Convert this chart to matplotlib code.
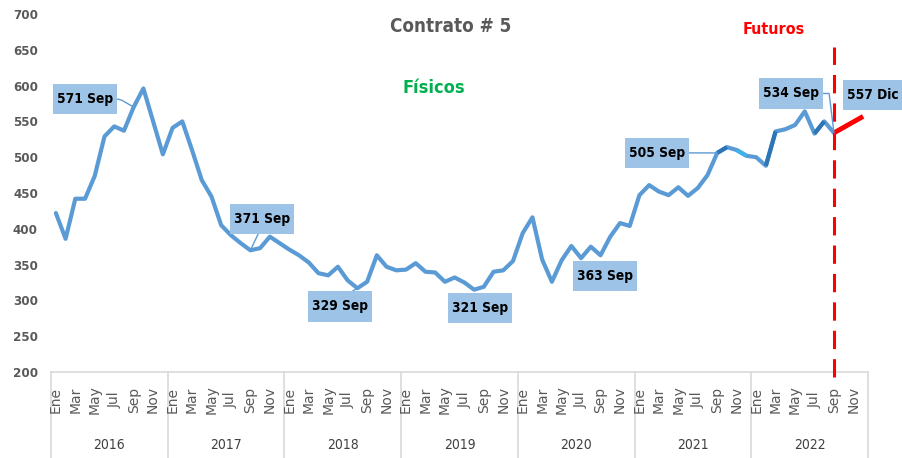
import numpy as np
import matplotlib
matplotlib.use('Agg')
import matplotlib.pyplot as plt
import matplotlib.font_manager as fm
from matplotlib.path import Path
from matplotlib.transforms import blended_transform_factory

## ---------------------------- DATOS ---------------------------- ##

anios = ['2016', '2017', '2018', '2019', '2020', '2021', '2022']
meses_eje = ['Ene', 'Mar', 'May', 'Jul', 'Sep', 'Nov']

# precios mensuales Ene 2016 - Sep 2022 (fisicos)
fisicos = [422, 386, 442, 442, 474, 529, 543, 537, 570, 596, 550, 504,
           541, 550, 510, 468, 445, 405, 391, 380, 370, 373, 389, 380,
           371, 363, 353, 338, 335, 347, 328, 317, 326, 363, 347, 342,
           343, 352, 340, 339, 326, 332, 325, 315, 319, 340, 342, 355,
           394, 416, 357, 326, 356, 376, 359, 375, 363, 389, 408, 404,
           447, 461, 452, 447, 458, 446, 457, 475, 506, 514, 510, 502,
           500, 488, 536, 539, 545, 564, 533, 550, 534]

# futuros: Sep 2022 -> Dic 2022
fut_idx = [80, 83]
futuros = [534, 557]

# etiquetas de datos
etiq_txt = ['571 Sep', '371 Sep', '329 Sep', '321 Sep', '363 Sep', '505 Sep', '534 Sep', '557 Dic']
etiq_idx = [8, 20, 32, 44, 56, 68, 80, 83]

## ---------------------- POSICIONES / ESTILOS ---------------------- ##

etiq_pos = [(3.0, 581), (21.2, 414), (29.2, 291.5), (43.6, 289),
            (56.5, 334.5), (61.8, 506), (75.6, 589), (84.0, 587)]
etiq_con = ['angle,angleA=0,angleB=150,rad=3', 'arc3', 'arc3', None,
            None, 'arc3', 'angle,angleA=0,angleB=97,rad=0', None]
etiq_rel = [(1, 0.5), (0.5, 0), (0.5, 1), None, None, (1, 0.5), (1, 0.5), None]

# tramos con otro tono de azul
tramos = [(68, 69, '#2E75B6'), (70, 71, '#3FB2E8'), (73, 74, '#2E75B6'), (78, 79, '#2E75B6')]

azul = '#5B9BD5'
caja = '#9DC3E6'
gris = '#595959'

# buscar una fuente sans estrecha instalada
def es_angosta(f):
    st = f.stretch
    return ('Narrow' in f.name or 'Condensed' in f.name or
            st in ('condensed', 'semi-condensed', 'extra-condensed', 'ultra-condensed') or
            (isinstance(st, int) and st < 500))

cands = [f for f in fm.fontManager.ttflist
         if es_angosta(f) and 'Serif' not in f.name and 'Mono' not in f.name
         and f.weight in ('bold', 700)]
prioridad = ['Liberation Sans Narrow', 'DejaVu Sans', 'DejaVu Sans Condensed']
cands.sort(key=lambda f: prioridad.index(f.name) if f.name in prioridad else 99)
if cands:
    fnt = dict(family=[cands[0].name, 'DejaVu Sans'], fontstretch=cands[0].stretch)
else:
    fnt = dict(family=['Roboto', 'DejaVu Sans'])


# caja con relleno distinto en horizontal y vertical
def caja_hv(x0, y0, width, height, mutation_size):
    px, py = 0.3*mutation_size, 0.6*mutation_size
    x0, y0 = x0 - px, y0 - py
    x1, y1 = x0 + width + 2*px, y0 + height + 2*py
    return Path([(x0, y0), (x1, y0), (x1, y1), (x0, y1), (x0, y0)], closed=True)


fig = plt.figure(figsize=[9.03, 4.58], dpi=100)
ax = fig.add_axes([51/903, 86/458, 817/903, 358/458])

x = np.arange(len(fisicos))
ax.plot(x, fisicos, color=azul, lw=3, solid_capstyle='round', solid_joinstyle='round', zorder=3)
for a, b, c in tramos:
    ax.plot(x[a:b+1], fisicos[a:b+1], color=c, lw=3, solid_capstyle='butt', zorder=3)
ax.plot(fut_idx, futuros, color='red', lw=3.5, solid_capstyle='butt', zorder=3)

# linea vertical de futuros
ax.plot([fut_idx[0], fut_idx[0]], [193, 654], color='red', lw=2.2, dashes=(6, 3.3), clip_on=False, zorder=4)

for txt, i, pos, con, rel in zip(etiq_txt, etiq_idx, etiq_pos, etiq_con, etiq_rel):
    yv = futuros[-1] if txt.endswith('Dic') else fisicos[i]
    props = None
    if con is not None:
        props = dict(arrowstyle='-', color=azul, lw=1, connectionstyle=con, relpos=rel,
                     shrinkA=0, shrinkB=0)
    ax.annotate(txt, xy=(i, yv), xytext=pos, textcoords='data', ha='center', va='center',
                fontsize=9.8, fontweight='bold', color='black',
                bbox=dict(boxstyle=caja_hv, fc=caja, ec='none'),
                arrowprops=props, annotation_clip=False, zorder=5, **fnt)

ax.set_xlim(-0.5, len(anios)*12 - 0.5)
ax.set_ylim(200, 700)
ax.set_yticks(np.arange(200, 701, 50))
ax.tick_params(axis='y', length=0, pad=9.4)
for lb in ax.get_yticklabels():
    lb.set_family(fnt['family'])
    if 'fontstretch' in fnt:
        lb.set_stretch(fnt['fontstretch'])
    lb.set_fontweight('bold')
    lb.set_fontsize(9.5)
    lb.set_color(gris)
ax.set_xticks([])
for s in ['top', 'right', 'left']:
    ax.spines[s].set_visible(False)
ax.spines['bottom'].set_color('#D9D9D9')
ax.spines['bottom'].set_linewidth(1.2)

# eje categorico de dos niveles
trans = blended_transform_factory(ax.transData, ax.transAxes)
for k, anio in enumerate(anios):
    for j, m in enumerate(meses_eje):
        ax.text(k*12 + 2*j, -0.078, m, transform=trans, rotation=90, ha='center', va='center',
                fontsize=10, color=gris, family='DejaVu Sans')
    ax.text(k*12 + 5.5, -0.204, anio, transform=trans, ha='center', va='center',
            fontsize=10, color='#404040', **fnt)
for k in range(len(anios) + 1):
    ax.plot([k*12 - 0.5, k*12 - 0.5], [0, -0.24], transform=trans, color='#D9D9D9', lw=1.2, clip_on=False)

# titulos
fig.text(451/903, 1 - 27/458, 'Contrato # 5', ha='center', va='center', fontsize=13.5,
         fontweight='bold', color=gris, **fnt)
fig.text(434/903, 1 - 88/458, 'Físicos', ha='center', va='center', fontsize=13,
         fontweight='bold', color='#00B050', **fnt)
fig.text(774/903, 1 - 29/458, 'Futuros', ha='center', va='center', fontsize=11.5,
         fontweight='bold', color='red', **fnt)

plt.savefig('out.png', dpi=100)
